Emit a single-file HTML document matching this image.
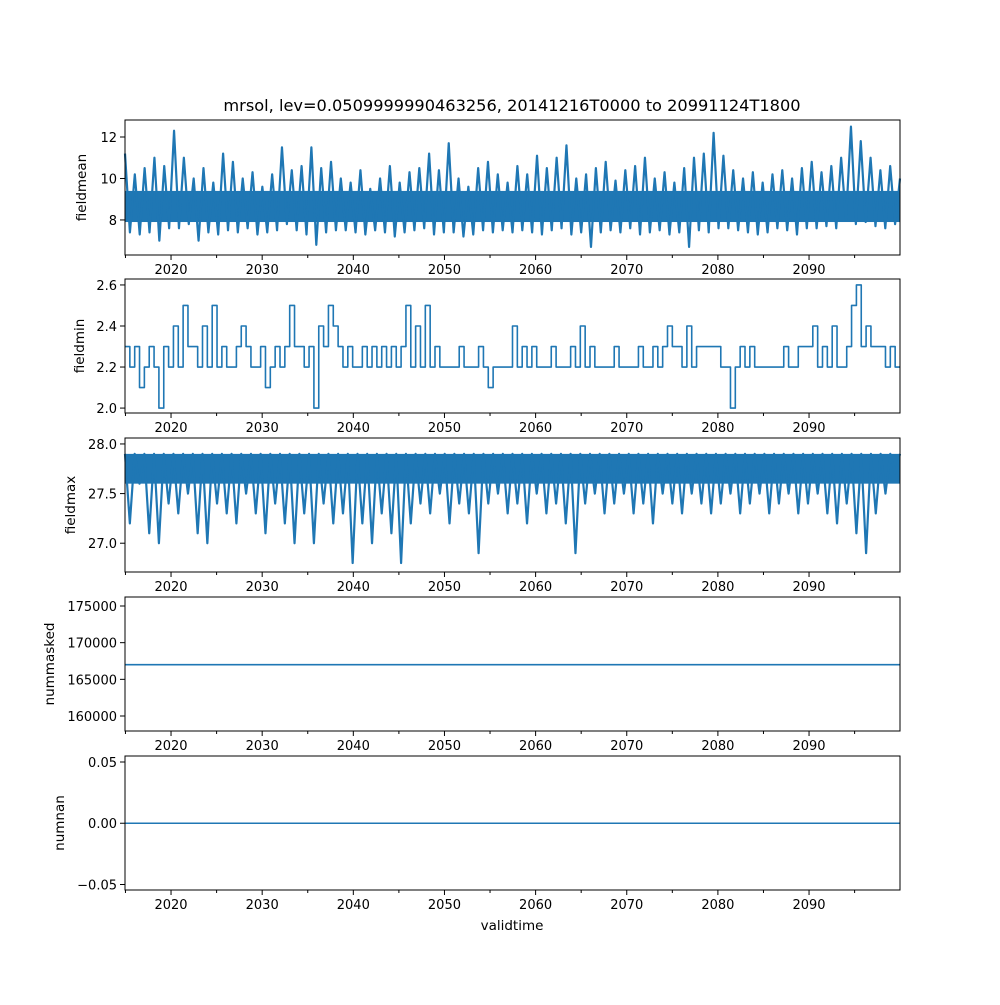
<!DOCTYPE html>
<html><head><meta charset="utf-8"><style>
body{margin:0;background:#fff}
svg text{font-family:"DejaVu Sans","Liberation Sans",sans-serif;fill:#000}
</style></head><body>
<svg id="chart" width="1000" height="1000" viewBox="0 0 1000 1000">
<text x="512" y="111" font-size="16.2" text-anchor="middle">mrsol, lev=0.0509999990463256, 20141216T0000 to 20991124T1800</text>
<text x="512" y="930" font-size="13.5" text-anchor="middle">validtime</text>
</svg>
<script>
const xStart = 2014.95, xEnd = 2099.98;
const xTicks = [2020,2030,2040,2050,2060,2070,2080,2090];
const xMinorTicks = [2015,2025,2035,2045,2055,2065,2075,2085,2095];
const fieldmean = [11.2,7.4,10.2,7.3,10.5,7.4,11.0,7.0,10.6,7.6,12.3,7.6,11.0,7.8,10.0,7.0,10.5,7.4,9.8,7.3,
11.2,7.5,10.8,7.4,10.0,7.6,10.3,7.3,9.6,7.4,10.2,7.5,11.5,7.8,10.4,7.5,10.6,7.3,11.5,6.8,
10.5,7.4,10.8,7.5,10.0,7.5,9.8,7.4,10.4,7.3,9.5,7.5,10.0,7.4,10.6,7.2,9.8,7.4,10.3,7.5,
10.5,7.6,11.2,7.3,10.4,7.4,11.7,7.4,10.0,7.2,9.6,7.3,10.5,7.5,10.8,7.4,10.2,7.5,9.8,7.4,
10.6,7.5,10.2,7.4,11.1,7.3,10.5,7.5,11.0,7.6,11.6,7.3,10.0,7.4,10.2,6.7,10.5,7.4,10.8,7.5,
9.9,7.4,10.4,7.6,10.6,7.3,11.0,7.4,10.0,7.5,10.3,7.3,9.8,7.4,10.5,6.7,11.0,7.5,11.2,7.4,
12.2,7.6,11.1,7.6,10.4,7.5,10.0,7.4,10.3,7.3,9.8,7.4,10.2,7.6,10.4,7.5,10.0,7.3,10.5,7.6,
10.8,7.6,10.3,7.7,10.6,7.6,11.0,8.0,12.5,7.8,11.8,7.9,11.0,7.7,10.4,7.6,10.6,7.8,10.0];
const fieldmeanBand = [7.9, 9.4];
const fieldmin = [2.3,2.2,2.3,2.1,2.2,2.3,2.2,2.0,2.3,2.2,2.4,2.2,2.5,2.3,2.3,2.2,2.4,2.2,2.5,2.2,
2.3,2.2,2.2,2.3,2.4,2.3,2.2,2.2,2.3,2.1,2.2,2.3,2.2,2.3,2.5,2.3,2.3,2.2,2.3,2.0,
2.4,2.3,2.5,2.4,2.3,2.2,2.3,2.2,2.2,2.3,2.2,2.3,2.2,2.3,2.2,2.3,2.2,2.3,2.5,2.2,
2.4,2.2,2.5,2.2,2.3,2.2,2.2,2.2,2.2,2.3,2.2,2.2,2.2,2.3,2.2,2.1,2.2,2.2,2.2,2.2,
2.4,2.2,2.3,2.2,2.3,2.2,2.2,2.2,2.3,2.2,2.2,2.2,2.3,2.2,2.4,2.2,2.3,2.2,2.2,2.2,
2.2,2.3,2.2,2.2,2.2,2.2,2.3,2.2,2.2,2.3,2.2,2.3,2.4,2.3,2.3,2.2,2.4,2.2,2.3,2.3,
2.3,2.3,2.3,2.2,2.2,2.0,2.2,2.3,2.2,2.3,2.2,2.2,2.2,2.2,2.2,2.2,2.3,2.2,2.2,2.3,
2.3,2.3,2.4,2.2,2.3,2.2,2.4,2.2,2.2,2.3,2.5,2.6,2.3,2.4,2.3,2.3,2.3,2.2,2.3,2.2,2.2];
const fieldmax = [27.9,27.2,27.9,27.6,27.9,27.1,27.9,27.0,27.9,27.4,27.9,27.3,27.9,27.5,27.9,27.1,27.9,27.0,27.9,27.4,
27.9,27.3,27.9,27.2,27.9,27.5,27.9,27.3,27.9,27.1,27.9,27.4,27.9,27.2,27.9,27.0,27.9,27.3,27.9,27.0,
27.9,27.4,27.9,27.2,27.9,27.3,27.9,26.8,27.9,27.2,27.9,27.0,27.9,27.3,27.9,27.1,27.9,26.8,27.9,27.2,
27.9,27.4,27.9,27.3,27.9,27.5,27.9,27.2,27.9,27.4,27.9,27.3,27.9,26.9,27.9,27.4,27.9,27.5,27.9,27.3,
27.9,27.4,27.9,27.2,27.9,27.5,27.9,27.3,27.9,27.4,27.9,27.2,27.9,26.9,27.9,27.4,27.9,27.5,27.9,27.3,
27.9,27.4,27.9,27.5,27.9,27.3,27.9,27.4,27.9,27.2,27.9,27.5,27.9,27.4,27.9,27.3,27.9,27.5,27.9,27.4,
27.9,27.3,27.9,27.4,27.9,27.5,27.9,27.3,27.9,27.4,27.9,27.5,27.9,27.3,27.9,27.4,27.9,27.5,27.9,27.3,
27.9,27.4,27.9,27.5,27.9,27.3,27.9,27.2,27.9,27.4,27.9,27.1,27.9,26.9,27.9,27.3,27.9,27.5,27.9,27.7,27.9];
const fieldmaxBand = [27.6, 27.9];
const nummasked = [167000,167000];
const numnan = [0,0];
const ticks1 = [8,10,12], ticks2 = [2.0,2.2,2.4,2.6], ticks3 = [27.0,27.5,28.0];
const ticks4 = [160000,165000,170000,175000], ticks5 = [-0.05,0,0.05];

const NS = "http://www.w3.org/2000/svg";
const svg = document.getElementById('chart');
const L = 125, R = 900;
const xs = v => L + (v - xStart) / (xEnd - xStart) * (R - L);
function mk(tag, attrs, parent){const e=document.createElementNS(NS,tag);for(const k in attrs)e.setAttribute(k,attrs[k]);(parent||svg).appendChild(e);return e;}
const panels = [
 {name:'fieldmean',data:fieldmean,band:fieldmeanBand,top:120,bot:255,ymin:6.31,ymax:12.82,ticks:ticks1,fmt:v=>v.toString(),lx:86,step:false},
 {name:'fieldmin',data:fieldmin,band:null,top:279,bot:413,ymin:1.976,ymax:2.629,ticks:ticks2,fmt:v=>v.toFixed(1),lx:84,step:true},
 {name:'fieldmax',data:fieldmax,band:fieldmaxBand,top:438,bot:572,ymin:26.71,ymax:28.06,ticks:ticks3,fmt:v=>v.toFixed(1),lx:75,step:false},
 {name:'nummasked',data:nummasked,band:null,top:597,bot:731,ymin:157956,ymax:176227,ticks:ticks4,fmt:v=>v.toString(),lx:54,step:false},
 {name:'numnan',data:numnan,band:null,top:756,bot:890,ymin:-0.0545,ymax:0.0549,ticks:ticks5,fmt:v=>v.toFixed(2),lx:64,step:false}
];
panels.forEach(p=>{
  const g = mk('g',{});
  
  
  const ys = v => p.bot - (v - p.ymin)/(p.ymax - p.ymin)*(p.bot - p.top);
  if(p.band){
    const b = mk('rect',{x:L,y:ys(p.band[1]),width:R-L,height:ys(p.band[0])-ys(p.band[1]),fill:'#1f77b4'},g);
    
    
  }
  const n = p.data.length;
  let d='';
  p.data.forEach((v,i)=>{
    const x = xs(xStart + i*(xEnd-xStart)/(n-1)), y = ys(v);
    if(i===0) d+=`M${x},${y}`;
    else if(p.step) d+=`H${x}V${y}`;
    else d+=`L${x},${y}`;
  });
  const line = mk('path',{d:d,fill:'none',stroke:'#1f77b4','stroke-width':p.band?2.2:1.6,'stroke-linejoin':'round'},g);
  
  
  const fr = mk('rect',{x:L,y:p.top,width:R-L,height:p.bot-p.top,fill:'none',stroke:'#000','stroke-width':1},g);
  
  
  xTicks.forEach(t=>{
    const x=xs(t);
    mk('line',{x1:x,x2:x,y1:p.bot,y2:p.bot+5,stroke:'#000'},g);
    const tx = mk('text',{x:x,y:p.bot+19,'font-size':13,'text-anchor':'middle'},g);
    tx.textContent=t;
    
    
  });
  xMinorTicks.forEach(t=>{const x=xs(t);mk('line',{x1:x,x2:x,y1:p.bot,y2:p.bot+3,stroke:'#000'},g);});
  p.ticks.forEach(t=>{
    const y=ys(t);
    mk('line',{x1:L-5,x2:L,y1:y,y2:y,stroke:'#000'},g);
    const tx = mk('text',{x:L-8,y:y+5,'font-size':13,'text-anchor':'end'},g);
    tx.textContent=p.fmt(t).replace('-','\u2212');
    
    
  });
  const yl = mk('text',{x:p.lx,y:(p.top+p.bot)/2,'font-size':13.5,'text-anchor':'middle',transform:`rotate(-90 ${p.lx} ${(p.top+p.bot)/2})`},g);
  yl.textContent=p.name;
  
  
});
</script>
</body></html>
